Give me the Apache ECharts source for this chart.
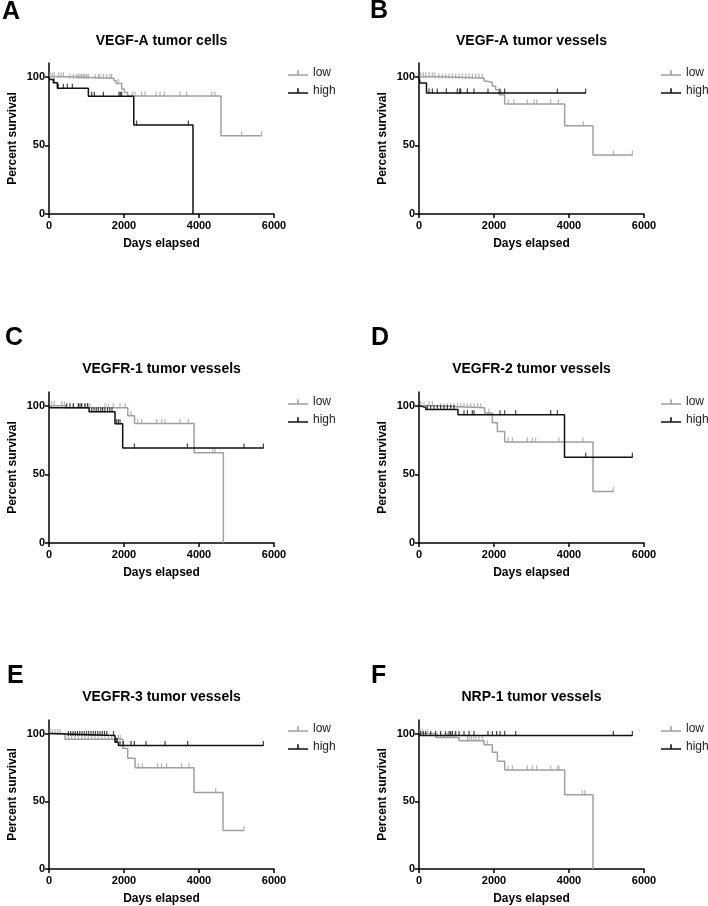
<!DOCTYPE html>
<html>
<head>
<meta charset="utf-8">
<script src="https://cdn.jsdelivr.net/npm/echarts@6/dist/echarts.min.js"></script>
<style>
  html, body { margin: 0; padding: 0; background: #fff; }
  #main { width: 708px; height: 906px; }
</style>
</head>
<body>
<div id="main"></div>
<script>
// tick labels
var xTicks = [0, 2000, 4000, 6000];
var yTicks = [0, 50, 100];

var panelLetters = ['A', 'B', 'C', 'D', 'E', 'F'];
var panelTitles = ['VEGF-A tumor cells', 'VEGF-A tumor vessels', 'VEGFR-1 tumor vessels',
  'VEGFR-2 tumor vessels', 'VEGFR-3 tumor vessels', 'NRP-1 tumor vessels'];

// Kaplan-Meier steps: [days, percent survival]
var lowA = [[0, 100], [444, 98.8], [1733, 97], [1787, 95], [1938, 91], [2009, 88.5], [2098, 86], [4587, 57], [5670, 57]];
var highA = [[0, 100], [20, 98], [115, 95.7], [222, 91.6], [1050, 85.8], [2260, 64.9], [3840, 0]];
var lowB = [[0, 100], [445, 99], [1733, 97.1], [1778, 95.9], [1956, 93], [2045, 90.5], [2134, 86.9], [2285, 80.1], [3885, 64.3], [4641, 43], [5690, 43]];
var highB = [[0, 100], [30, 95.4], [200, 88.1], [4445, 88.1]];
var lowC = [[0, 100], [440, 98.5], [2100, 92.7], [2280, 87.1], [3870, 65.8], [4650, 0]];
var highC = [[0, 100], [30, 98.5], [1067, 95.6], [1760, 86.9], [1965, 69.2], [5716, 69.2]];
var lowD = [[0, 100], [445, 98.6], [1751, 94.7], [1956, 87.6], [2089, 81.3], [2285, 73.5], [4641, 37.6], [5183, 37.6]];
var highD = [[0, 100], [20, 98.8], [180, 97.2], [1040, 93.4], [3880, 62.4], [5690, 62.4]];
var lowE = [[0, 100], [430, 95.7], [1965, 88.9], [2098, 81.7], [2294, 74.8], [3867, 56.5], [4640, 28.4], [5200, 28.4]];
var highE = [[0, 100], [40, 98.6], [1760, 93.5], [1850, 91.2], [5716, 91.2]];
var lowF = [[0, 100], [445, 97.1], [1067, 94.7], [1733, 91.7], [1955, 86.2], [2090, 79.6], [2285, 73.1], [3885, 54.9], [4641, 0]];
var highF = [[0, 100], [40, 98.5], [5690, 98.5]];

// censored observations (days)
var lowCensA = [27, 89, 142, 249, 320, 382, 560, 649, 738, 782, 827, 871, 916, 960, 1005, 1049, 1227, 1316, 1360, 1449, 1538, 1627, 1671, 1850, 2222, 2293, 2471, 2560, 2853, 2960, 3075, 3494, 3671, 4338, 4427, 5138, 5670];
var highCensA = [133, 249, 382, 489, 622, 1138, 1209, 1449, 1867, 1902, 1938, 2338, 3716];
var lowCensB = [44, 116, 178, 267, 356, 418, 533, 622, 711, 800, 889, 978, 1067, 1156, 1245, 1334, 1423, 1512, 1600, 1690, 2178, 2382, 2534, 2889, 3067, 3138, 3512, 3716, 4383, 5183, 5690];
var highCensB = [267, 356, 489, 729, 1022, 1085, 1111, 1289, 1467, 1840, 2160, 2285, 3689, 4445];
var lowCensC = [71, 142, 338, 409, 649, 782, 871, 960, 1031, 1093, 1494, 1583, 1716, 1894, 2027, 2187, 2365, 2471, 2871, 3005, 3094, 3494, 3716, 4365, 4427];
var highCensC = [471, 560, 649, 782, 827, 871, 960, 1031, 1138, 1200, 1260, 1316, 1380, 1430, 1490, 1560, 1620, 1680, 1805, 1850, 1894, 2276, 3690, 5200, 5716];
var lowCensD = [44, 133, 267, 356, 578, 667, 756, 845, 934, 1023, 1112, 1200, 1290, 1380, 1470, 1560, 1650, 1867, 2374, 2489, 2889, 3023, 3112, 3734, 4374, 5183];
var highCensD = [222, 311, 400, 489, 578, 667, 756, 845, 934, 1200, 1289, 1422, 1467, 2160, 2285, 2578, 3512, 3689, 4445, 5690];
var lowCensE = [27, 89, 160, 231, 293, 515, 604, 693, 782, 871, 960, 1049, 1138, 1227, 1316, 1405, 1494, 1583, 1672, 1850, 1900, 2382, 2489, 2898, 3005, 3138, 3538, 3734, 4445, 5200];
var highCensE = [515, 580, 640, 700, 760, 820, 880, 940, 1000, 1060, 1120, 1180, 1240, 1300, 1360, 1420, 1480, 1540, 1720, 1790, 1820, 1894, 1982, 2187, 2276, 2587, 3094, 3698, 5716];
var lowCensF = [27, 89, 222, 489, 578, 667, 756, 845, 934, 1289, 1340, 1400, 1460, 1520, 1600, 1690, 1822, 2374, 2489, 2889, 3023, 3138, 3512, 3689, 3734, 4356, 4418];
var highCensF = [44, 116, 178, 311, 445, 578, 711, 800, 845, 889, 978, 1067, 1200, 1334, 1467, 1840, 1956, 2071, 2160, 2285, 2578, 5183, 5690];

var lowCurves = [lowA, lowB, lowC, lowD, lowE, lowF];
var highCurves = [highA, highB, highC, highD, highE, highF];
var lowCens = [lowCensA, lowCensB, lowCensC, lowCensD, lowCensE, lowCensF];
var highCens = [highCensA, highCensB, highCensC, highCensD, highCensE, highCensF];

var GRAY = '#a0a0a0';
var BLACK = '#111111';
var FONT = '"Liberation Sans", Arial, sans-serif';

// survival level of a curve at time t
function levelAt(curve, t) {
  var v = curve[0][1];
  for (var i = 0; i < curve.length; i++) {
    if (curve[i][0] <= t) v = curve[i][1];
  }
  return v;
}
function censorPoints(curve, times) {
  return times.map(function (t) { return [t, levelAt(curve, t)]; });
}

var colLeft = [49, 419];
var rowTop = [63, 392, 720];
var gridW = 225, gridH = 151;
var letterPos = [[2, 12], [370, 11], [5, 338], [371, 338], [7, 676], [371, 676]];
var titleY = [41, 369, 697];
var legendLeft = [288, 661];
var legendTop = [67, 396, 723];

var grids = [], xAxes = [], yAxes = [], series = [], legends = [], graphics = [];
var iconPath = 'path://M0,5H20V6.6H0Z M9.2,1H10.8V6.6H9.2Z';

for (var p = 0; p < 6; p++) {
  var col = p % 2, row = Math.floor(p / 2);
  grids.push({ left: colLeft[col], top: rowTop[row], width: gridW, height: gridH });
  xAxes.push({
    type: 'value', gridIndex: p, min: 0, max: 6000, interval: 2000,
    name: 'Days elapsed', nameLocation: 'middle', nameGap: 24,
    nameTextStyle: { fontFamily: FONT, fontWeight: 'bold', fontSize: 12, color: '#000' },
    axisLine: { lineStyle: { color: '#000', width: 1.5 } },
    axisTick: { length: 4, lineStyle: { color: '#000', width: 1.5 } },
    axisLabel: {
      margin: 6, fontFamily: FONT, fontWeight: 'bold', fontSize: 11, color: '#000',
      formatter: function (v) { return xTicks.indexOf(v) >= 0 ? String(v) : ''; }
    },
    splitLine: { show: false }
  });
  yAxes.push({
    type: 'value', gridIndex: p, min: 0, max: 110,
    name: 'Percent survival', nameLocation: 'middle', nameGap: 30,
    nameTextStyle: { fontFamily: FONT, fontWeight: 'bold', fontSize: 12, color: '#000' },
    axisLine: { show: true, lineStyle: { color: '#000', width: 1.5 } },
    axisTick: { show: true, length: 4, customValues: yTicks, lineStyle: { color: '#000', width: 1.5 } },
    axisLabel: {
      margin: 4, fontFamily: FONT, fontWeight: 'bold', fontSize: 11, color: '#000',
      customValues: yTicks,
      formatter: function (v) { return yTicks.indexOf(v) >= 0 ? String(v) : ''; }
    },
    splitLine: { show: false }
  });

  series.push({
    name: 'low', type: 'line', xAxisIndex: p, yAxisIndex: p, step: 'end',
    data: lowCurves[p], showSymbol: false, symbol: 'none',
    color: GRAY, lineStyle: { color: GRAY, width: 1.5 }, z: 2
  });
  series.push({
    name: 'low', type: 'scatter', xAxisIndex: p, yAxisIndex: p,
    data: censorPoints(lowCurves[p], lowCens[p]),
    symbol: 'rect', symbolSize: [1.2, 5], symbolOffset: [0, -2],
    itemStyle: { color: GRAY }, z: 2
  });
  series.push({
    name: 'high', type: 'line', xAxisIndex: p, yAxisIndex: p, step: 'end',
    data: highCurves[p], showSymbol: false, symbol: 'none',
    color: BLACK, lineStyle: { color: BLACK, width: 1.5 }, z: 3
  });
  series.push({
    name: 'high', type: 'scatter', xAxisIndex: p, yAxisIndex: p,
    data: censorPoints(highCurves[p], highCens[p]),
    symbol: 'rect', symbolSize: [1.2, 5], symbolOffset: [0, -2],
    itemStyle: { color: BLACK }, z: 3
  });

  legends.push({
    orient: 'vertical', left: legendLeft[col], top: legendTop[row], padding: 0,
    itemWidth: 20, itemHeight: 7, itemGap: 6, selectedMode: false,
    textStyle: { fontFamily: FONT, fontSize: 12, color: '#222' },
    data: [{ name: 'low', icon: iconPath }, { name: 'high', icon: iconPath }]
  });

  graphics.push({
    type: 'text', x: letterPos[p][0], y: letterPos[p][1],
    style: { text: panelLetters[p], font: 'bold 25px ' + FONT, fill: '#000', align: 'left', verticalAlign: 'middle' }
  });
  graphics.push({
    type: 'text', x: colLeft[col] + gridW / 2, y: titleY[row],
    style: { text: panelTitles[p], font: 'bold 14px ' + FONT, fill: '#000', align: 'center', verticalAlign: 'middle' }
  });
}

var chart = echarts.init(document.getElementById('main'));
chart.setOption({
  animation: false,
  backgroundColor: '#fff',
  grid: grids,
  xAxis: xAxes,
  yAxis: yAxes,
  legend: legends,
  graphic: graphics,
  series: series
});
</script>
</body>
</html>
